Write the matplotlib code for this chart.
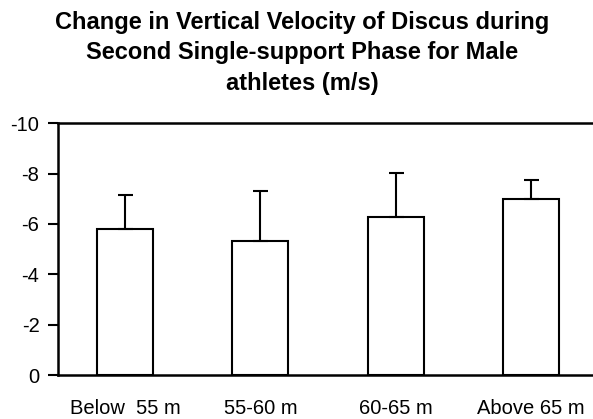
import numpy as np
import matplotlib.pyplot as plt

plt.rcParams['font.family'] = ['Liberation Sans', 'DejaVu Sans']

groups = ["Below  55 m", "55-60 m", "60-65 m", "Above 65 m"]
means = [-5.79, -5.32, -6.26, -6.98]
sds = [1.35, 1.99, 1.75, 0.78]
yticks = [0, -2, -4, -6, -8, -10]

fig = plt.figure(figsize=(5.93, 4.19), dpi=100)
ax = fig.add_axes([57.5/593, 1-375/419, 1-57.5/593, (375-123.3)/419])

x = np.arange(len(groups))
ax.bar(x, means, width=0.415, color='white', edgecolor='black', linewidth=1.5)
# axis is inverted, so the bar goes up toward more negative values
ax.errorbar(x, means, yerr=[sds, np.zeros(len(sds))], fmt='none',
            ecolor='black', elinewidth=1.5, capsize=5.4, capthick=1.5)

ax.set_ylim(0, -10)
ax.set_xlim(-0.5, 3.46)
ax.set_yticks(yticks)
ax.set_yticklabels([str(v) for v in yticks])
ax.set_xticks(x)
ax.set_xticklabels(groups)
ax.tick_params(axis='x', length=0, labelsize=14.5, pad=17)
ax.tick_params(axis='y', length=7, width=1.5, labelsize=14.5, pad=6)
ax.spines['right'].set_visible(False)
for s in ['top', 'bottom', 'left']:
    ax.spines[s].set_linewidth(1.8)

fig.text(302/593, 1-53/419,
         "Change in Vertical Velocity of Discus during\nSecond Single-support Phase for Male\nathletes (m/s)",
         ha='center', va='center', fontsize=17, fontweight='bold', linespacing=1.4)

fig.savefig('out.png', dpi=100)
